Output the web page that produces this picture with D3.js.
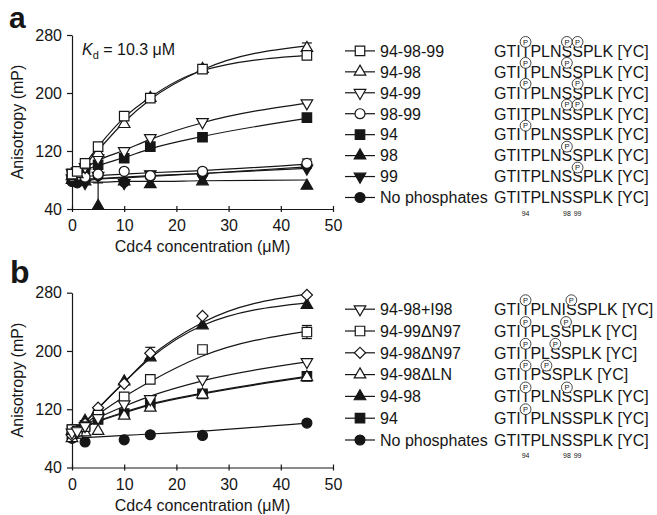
<!DOCTYPE html>
<html><head><meta charset="utf-8">
<script src="https://cdn.jsdelivr.net/npm/d3@7"></script>
<style>
body{margin:0;background:#fff}
svg{display:block}
text{font-family:"Liberation Sans",Arial,Helvetica,sans-serif;fill:#161616}
</style>
</head><body>
<svg id="c" width="657" height="515"></svg>
<script>
// ---------- data ----------
const xTicks = [0, 10, 20, 30, 40, 50];
const yTicks = [40, 120, 200, 280];
const conc = [0, 1, 2.5, 5, 10, 15, 25, 45];
const fitConc = [0, 2.5, 5, 10, 15, 25, 45];
const siteNumbers = ["94", "98", "99"];
const firstResidue = 91;
const kdLabel = "10.3 μM";

// panel a
const namesA = ["94-98-99", "94-98", "94-99", "98-99", "94", "98", "99", "No phosphates"];
const seqA = ["GTIT*PLNS*S*PLK [YC]", "GTIT*PLNS*SPLK [YC]", "GTIT*PLNSS*PLK [YC]", "GTITPLNS*S*PLK [YC]",
              "GTIT*PLNSSPLK [YC]", "GTITPLNS*SPLK [YC]", "GTITPLNSS*PLK [YC]", "GTITPLNSSPLK [YC]"];
const symA = ["squareOpen", "triUpOpen", "triDownOpen", "circleOpen", "square", "triUp", "triDown", "circle"];
const a_94_98_99 = [88, 92, 103, 126, 168, 193, 233, 252];
const a_94_98    = [85, 88, 100, 117, 157, 193, 233, 262];
const a_94_99    = [90, 92, 98, 110, 120, 138, 160, 186];
const a_98_99    = [85, 86, 84, 88, 92, 86, 92, 103];
const a_94       = [88, 90, 95, 101, 110, 126, 139, 166];
const a_98       = [80, 82, 78, 44, 78, 74, 78, 72];
const a_99       = [82, 80, 76, 86, 76, 88, 84, 96];
const a_none     = [78, 76, 80, 86, 77, 85, 88, 100];
const fa_94_98_99 = [84, 103, 126, 166, 194, 231, 252];
const fa_94_98    = [84, 101, 121, 160, 191, 232, 265];
const fa_94_99    = [88, 97, 107, 121, 136, 159, 186];
const fa_98_99    = [84, 85, 86, 88, 90, 93, 102];
const fa_94       = [87, 94, 100, 111, 123, 140, 165];
const fa_98       = [77, 77, 77, 78, 78, 79, 80];
const fa_99       = [80, 81, 82, 84, 86, 89, 96];
const fa_none     = [78, 79, 81, 83, 85, 89, 98];
const ea_94_98 = [0, 0, 0, 0, 0, 0, 0, 7];
const ea_98_99 = [0, 0, 0, 0, 0, 0, 0, 6];
const ea_98    = [0, 0, 0, 32, 0, 0, 0, 0];
const eNone    = [0, 0, 0, 0, 0, 0, 0, 0];

// panel b
const namesB = ["94-98+I98", "94-99ΔN97", "94-98ΔN97", "94-98ΔLN", "94-98", "94", "No phosphates"];
const seqB = ["GTIT*PLNIS*SPLK [YC]", "GTIT*PLSS*PLK [YC]", "GTIT*PLS*SPLK [YC]", "GTIT*PS*SPLK [YC]",
              "GTIT*PLNS*SPLK [YC]", "GTIT*PLNSSPLK [YC]", "GTITPLNSSPLK [YC]"];
const symB = ["triDownOpen", "squareOpen", "diamondOpen", "triUpOpen", "triUp", "square", "circle"];
const b_94_98_I98  = [88, 90, 97, 108, 127, 134, 161, 185];
const b_94_99_dN97 = [92, 90, 96, 112, 137, 161, 202, 226];
const b_94_98_dN97 = [84, 88, 100, 122, 155, 197, 248, 277];
const b_94_98_dLN  = [80, 85, 88, 90, 111, 122, 140, 164];
const b_94_98      = [90, 88, 104, 119, 158, 191, 235, 263];
const b_94         = [92, 92, 98, 106, 114, 128, 141, 165];
const b_none       = [80, null, 75, null, 78, 85, 84, 101];
const fb_94_98_I98  = [88, 98, 108, 124, 138, 159, 185];
const fb_94_99_dN97 = [88, 100, 113, 137, 158, 193, 227];
const fb_94_98_dN97 = [84, 102, 121, 157, 192, 239, 278];
const fb_94_98_dLN  = [88, 96, 103, 115, 126, 141, 164];
const fb_94_98      = [84, 102, 121, 157, 190, 235, 266];
const fb_94         = [88, 96, 104, 116, 127, 142, 165];
const fb_none       = [80, 81, 82, 84, 86, 90, 101];
const eb_94_99_dN97 = [0, 0, 0, 0, 0, 0, 0, 9];
const eb_94_98_dN97 = [0, 0, 0, 0, 0, 8, 0, 0];

const valsA = [a_94_98_99, a_94_98, a_94_99, a_98_99, a_94, a_98, a_99, a_none];
const fitsA = [fa_94_98_99, fa_94_98, fa_94_99, fa_98_99, fa_94, fa_98, fa_99, fa_none];
const errsA = [eNone, ea_94_98, eNone, ea_98_99, eNone, ea_98, eNone, eNone];
const valsB = [b_94_98_I98, b_94_99_dN97, b_94_98_dN97, b_94_98_dLN, b_94_98, b_94, b_none];
const fitsB = [fb_94_98_I98, fb_94_99_dN97, fb_94_98_dN97, fb_94_98_dLN, fb_94_98, fb_94, fb_none];
const errsB = [eNone, eb_94_99_dN97, eb_94_98_dN97, eNone, eNone, eNone, eNone];

// ---------- drawing ----------
const svg = d3.select("#c");
const INK = "#161616";
const x = d3.scaleLinear().domain([0, 50]).range([72, 333]);

function marker(g, type, cx, cy) {
  const open = type.endsWith("Open");
  const base = type.replace("Open", "");
  let sym, size, rot = 0;
  if (base === "square") { sym = d3.symbolSquare; size = 90; }
  else if (base === "diamond") { sym = d3.symbolSquare; size = 62; rot = 45; }
  else if (base === "circle") { sym = d3.symbolCircle; size = 78; }
  else if (base === "triUp") { sym = d3.symbolTriangle; size = 58; }
  else { sym = d3.symbolTriangle; size = 58; rot = 180; }
  g.append("path")
    .attr("d", d3.symbol().type(sym).size(size)())
    .attr("transform", `translate(${cx},${cy}) rotate(${rot})`)
    .attr("fill", open ? "#fff" : INK)
    .attr("stroke", INK)
    .attr("stroke-width", 1.2);
}

function drawPanel(p) {
  const y = d3.scaleLinear().domain([40, 280]).range([p.bottom, p.top]);
  const g = svg.append("g");

  g.append("text").attr("x", p.letterX).attr("y", p.letterY)
    .attr("font-size", p.letterSize).attr("font-weight", "bold").text(p.label);

  const ya = g.append("g").attr("transform", `translate(${x(0)},0)`)
    .call(d3.axisLeft(y).tickValues(yTicks).tickSizeInner(5).tickSizeOuter(0).tickPadding(5));
  const xa = g.append("g").attr("transform", `translate(0,${p.bottom})`)
    .call(d3.axisBottom(x).tickValues(xTicks).tickSizeInner(3).tickSizeOuter(0).tickPadding(8));
  xa.selectAll(".tick line").attr("y1", -3).attr("y2", 3);
  [ya, xa].forEach(a => {
    a.selectAll("path,line").attr("stroke", INK).attr("stroke-width", 1.2);
    a.selectAll("text").attr("font-size", 16).attr("fill", INK)
      .attr("font-family", '"Liberation Sans",Arial,Helvetica,sans-serif');
  });

  g.append("text").attr("x", (x(0) + x(50)) / 2).attr("y", p.bottom + 43)
    .attr("text-anchor", "middle").attr("font-size", 16).text("Cdc4 concentration (μM)");
  g.append("text").attr("transform", `translate(23,${(p.top + p.bottom) / 2}) rotate(-90)`)
    .attr("text-anchor", "middle").attr("font-size", 16).text("Anisotropy (mP)");

  if (p.kd) {
    const t = g.append("text").attr("x", 82).attr("y", 55).attr("font-size", 16);
    t.append("tspan").attr("font-style", "italic").text("K");
    t.append("tspan").attr("font-size", 11).attr("dy", 4).text("d");
    t.append("tspan").attr("dy", -4).text(" = " + kdLabel);
  }

  const line = d3.line().x(d => x(d[0])).y(d => y(d[1])).curve(d3.curveMonotoneX);

  p.fits.forEach(f => {
    g.append("path").attr("d", line(fitConc.map((c, i) => [c, f[i]])))
      .attr("fill", "none").attr("stroke", INK).attr("stroke-width", 1.2);
  });

  p.vals.forEach((v, s) => {
    p.errs[s].forEach((e, i) => {
      if (!e || v[i] == null) return;
      const cx = x(conc[i]);
      const hi = v[i] + e, lo = Math.max(40, v[i] - e);
      g.append("line").attr("x1", cx).attr("x2", cx).attr("y1", y(hi)).attr("y2", y(lo))
        .attr("stroke", INK).attr("stroke-width", 1.2);
      g.append("line").attr("x1", cx - 5).attr("x2", cx + 5).attr("y1", y(hi)).attr("y2", y(hi))
        .attr("stroke", INK).attr("stroke-width", 1.2);
      if (v[i] - e >= 40)
        g.append("line").attr("x1", cx - 5).attr("x2", cx + 5).attr("y1", y(lo)).attr("y2", y(lo))
          .attr("stroke", INK).attr("stroke-width", 1.2);
    });
  });

  for (let s = p.vals.length - 1; s >= 0; s--) {
    p.vals[s].forEach((v, i) => {
      if (v == null) return;
      marker(g, p.syms[s], x(conc[i]), y(v));
    });
  }

  p.names.forEach((n, i) => {
    const base = p.legBase + i * p.legStep;
    const cy = base - 5.8;
    g.append("line").attr("x1", 345).attr("x2", 375).attr("y1", cy).attr("y2", cy)
      .attr("stroke", INK).attr("stroke-width", 1.2);
    marker(g, p.syms[i], 360, cy);
    g.append("text").attr("x", 380).attr("y", base).attr("font-size", 16).text(n);

    const raw = p.seqs[i];
    let clean = "", sites = [];
    for (const ch of raw) {
      if (ch === "*") sites.push(clean.length - 1); else clean += ch;
    }
    const t = g.append("text").attr("x", 494).attr("y", base).attr("font-size", 16).text(clean);
    const node = t.node();
    sites.forEach(ci => {
      const e = node.getExtentOfChar(ci);
      const ccx = e.x + e.width / 2, ccy = base - 14.8;
      g.append("circle").attr("cx", ccx).attr("cy", ccy).attr("r", 5.4)
        .attr("fill", "#fff").attr("stroke", INK).attr("stroke-width", 0.8);
      g.append("text").attr("x", ccx).attr("y", ccy + 2.7).attr("text-anchor", "middle")
        .attr("font-size", 7.5).text("P");
    });
    if (i === p.names.length - 1) {
      siteNumbers.forEach(sn => {
        const e = node.getExtentOfChar(+sn - firstResidue);
        g.append("text").attr("x", e.x + e.width / 2).attr("y", base + 12.5)
          .attr("text-anchor", "middle").attr("font-size", 7).text(sn);
      });
    }
  });
}

drawPanel({label: "a", letterX: 9, letterY: 28, letterSize: 30, top: 35, bottom: 209, kd: true,
  names: namesA, seqs: seqA, syms: symA, vals: valsA, fits: fitsA, errs: errsA, legBase: 56.7, legStep: 20.94});
drawPanel({label: "b", letterX: 10, letterY: 283, letterSize: 32, top: 292.7, bottom: 467.5, kd: false,
  names: namesB, seqs: seqB, syms: symB, vals: valsB, fits: fitsB, errs: errsB, legBase: 315, legStep: 21.8});
</script>
</body></html>
